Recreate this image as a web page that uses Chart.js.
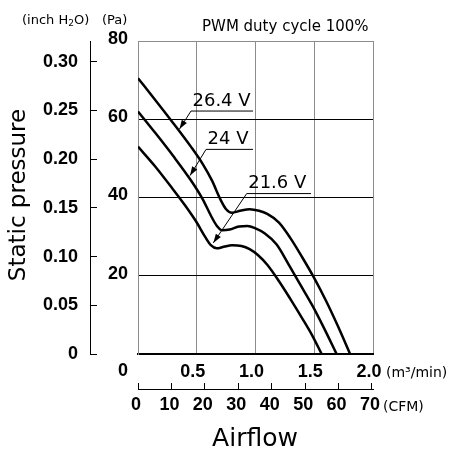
<!DOCTYPE html>
<html>
<head>
<meta charset="utf-8">
<script src="https://cdn.jsdelivr.net/npm/chart.js@4.4.1/dist/chart.umd.min.js"></script>
<style>
  html, body { margin: 0; padding: 0; background: #fff; }
  canvas { display: block; }
</style>
</head>
<body>
<canvas id="pq-chart" width="451" height="450"></canvas>
<script>
// airflow in m3/min, static pressure in Pa
const flow264 = [0, 0.15, 0.3, 0.45, 0.55, 0.63, 0.7, 0.75, 0.8, 0.87, 0.95, 1.03, 1.1, 1.2, 1.3, 1.4, 1.5, 1.6, 1.7, 1.805];
const pres264 = [70.5, 64.8, 59.0, 53.0, 48.6, 44.3, 39.6, 37.0, 36.1, 36.6, 37.0, 36.6, 35.8, 33.6, 29.5, 24.6, 19.4, 13.6, 7.2, 0];

const flow24 = [0, 0.15, 0.3, 0.45, 0.55, 0.62, 0.67, 0.72, 0.78, 0.86, 0.93, 1.0, 1.08, 1.18, 1.28, 1.38, 1.48, 1.58, 1.69];
const pres24 = [62, 56.4, 50.6, 44.4, 39.6, 35.4, 32.8, 31.6, 31.8, 32.6, 32.7, 32.1, 30.8, 28.0, 23.0, 17.8, 12.6, 6.8, 0];

const flow216 = [0, 0.15, 0.3, 0.4, 0.5, 0.57, 0.62, 0.67, 0.73, 0.8, 0.88, 0.95, 1.02, 1.1, 1.2, 1.3, 1.4, 1.48, 1.563];
const pres216 = [53, 47.8, 42.0, 38.0, 33.6, 30.0, 27.8, 27.0, 27.4, 27.8, 27.6, 26.8, 25.3, 22.8, 18.6, 13.9, 9.0, 4.9, 0];

const curveNames = ['26.4 V', '24 V', '21.6 V'];

// tick labels
const flowTicks = [0, 0.5, 1.0, 1.5, 2.0];
const cfmTicks = [0, 10, 20, 30, 40, 50, 60, 70];
const paTicks = [0, 20, 40, 60, 80];
const inchTicks = [0, 0.05, 0.10, 0.15, 0.20, 0.25, 0.30];

const PA_PER_INCH = 249.089;

// label + leader arrow, in data units (m3/min, Pa)
const notes = [
  { ux0: 0.451, ux1: 0.979, uy: 62.1, tx: 0.353, ty: 57.5 },
  { ux0: 0.579, ux1: 0.979, uy: 52.3, tx: 0.443, ty: 45.6 },
  { ux0: 0.925, ux1: 1.472, uy: 41.0, tx: 0.641, ty: 28.4 }
];

function toPoints(xs, ys) {
  return xs.map((x, i) => ({ x: x, y: ys[i] }));
}

const numFont = { family: '"Liberation Sans", Arial, sans-serif', size: 18, weight: 'bold' };
const txtFont = '"DejaVu Sans", sans-serif';

const extras = {
  id: 'extras',
  afterDraw(chart) {
    const c = chart.ctx;
    const xs = chart.scales.x, ys = chart.scales.y;
    const area = chart.chartArea;
    c.save();
    c.strokeStyle = '#000';
    c.fillStyle = '#000';

    // inch axis line
    const yIn = chart.scales.yIn;
    const lx = Math.round(yIn.right - 7) + 0.5;
    c.lineWidth = 1;
    c.beginPath();
    c.moveTo(lx, area.top);
    c.lineTo(lx, area.bottom);
    c.stroke();

    // CFM axis line
    const xC = chart.scales.xCfm;
    const ly = Math.round(xC.top + 6) + 0.5;
    c.beginPath();
    c.moveTo(xC.left, ly);
    c.lineTo(xC.right + 1, ly);
    c.stroke();

    // origin label
    c.font = 'bold 18px "Liberation Sans", Arial, sans-serif';
    c.textAlign = 'center';
    c.textBaseline = 'middle';
    c.fillText('0', area.left - 15, area.bottom + 17);

    // curve labels with arrows
    c.font = '18px ' + txtFont;
    c.textAlign = 'left';
    c.textBaseline = 'alphabetic';
    notes.forEach((n, i) => {
      const x0 = xs.getPixelForValue(n.ux0);
      const x1 = xs.getPixelForValue(n.ux1);
      const y0 = ys.getPixelForValue(n.uy);
      const tx = xs.getPixelForValue(n.tx);
      const ty = ys.getPixelForValue(n.ty);
      c.fillText(curveNames[i], x0 + 1.5, y0 - 5.5);
      c.lineWidth = 1;
      c.beginPath();
      c.moveTo(x1, y0);
      c.lineTo(x0, y0);
      c.lineTo(tx, ty);
      c.stroke();
      const ang = Math.atan2(ty - y0, tx - x0);
      const hl = 9, hw = 3;
      c.beginPath();
      c.moveTo(tx, ty);
      c.lineTo(tx - hl * Math.cos(ang) + hw * Math.sin(ang), ty - hl * Math.sin(ang) - hw * Math.cos(ang));
      c.lineTo(tx - hl * Math.cos(ang) - hw * Math.sin(ang), ty - hl * Math.sin(ang) + hw * Math.cos(ang));
      c.closePath();
      c.fill();
    });

    // header
    c.font = '15px ' + txtFont;
    c.fillText('PWM duty cycle 100%', 202, 31);

    c.font = '13px ' + txtFont;
    let px = 22;
    c.fillText('(inch H', px, 24);
    px += c.measureText('(inch H').width;
    c.font = '9px ' + txtFont;
    c.fillText('2', px, 26);
    px += c.measureText('2').width;
    c.font = '13px ' + txtFont;
    c.fillText('O)', px, 24);
    c.fillText('(Pa)', 102, 24);

    // unit labels
    c.font = '14px ' + txtFont;
    c.fillText('(m\u00b3/min)', 386, 377);
    c.fillText('(CFM)', 383, 411);

    // axis titles
    c.font = '25px ' + txtFont;
    c.textAlign = 'center';
    c.fillText('Airflow', 255, 446);

    c.font = '23px ' + txtFont;
    c.translate(25, 195);
    c.rotate(-Math.PI / 2);
    c.fillText('Static pressure', 0, 0);
    c.restore();
  }
};

new Chart(document.getElementById('pq-chart').getContext('2d'), {
  type: 'line',
  data: {
    datasets: [
      { data: toPoints(flow264, pres264) },
      { data: toPoints(flow24, pres24) },
      { data: toPoints(flow216, pres216) }
    ].map(d => Object.assign(d, {
      borderColor: '#000',
      borderWidth: 2.5,
      pointRadius: 0,
      fill: false,
      cubicInterpolationMode: 'monotone',
      xAxisID: 'x',
      yAxisID: 'y'
    }))
  },
  options: {
    responsive: false,
    animation: false,
    layout: { padding: { left: 0, top: 41, right: 78, bottom: 0 } },
    plugins: { legend: { display: false }, tooltip: { enabled: false } },
    scales: {
      x: {
        type: 'linear', position: 'bottom', weight: 0,
        min: 0, max: 2,
        afterBuildTicks: s => { s.ticks = flowTicks.map(v => ({ value: v })); },
        afterFit: s => { s.height = 29; },
        ticks: {
          font: numFont, color: '#000', padding: 7, maxRotation: 0, labelOffset: -4,
          callback: v => v === 0 ? '' : v.toFixed(1)
        },
        grid: { color: '#8c8c8c', lineWidth: 1, drawTicks: false },
        border: { color: '#000', width: 2 }
      },
      xCfm: {
        type: 'linear', position: 'bottom', weight: 1,
        min: 0, max: 70.3,
        afterBuildTicks: s => { s.ticks = cfmTicks.map(v => ({ value: v })); },
        afterFit: s => { s.height = 67; },
        ticks: { font: numFont, color: '#000', padding: 5, maxRotation: 0, labelOffset: -2 },
        grid: { drawOnChartArea: false, drawTicks: true, tickLength: 6, color: '#000', lineWidth: 1 },
        border: { display: false }
      },
      y: {
        type: 'linear', position: 'left', weight: 0,
        min: 0, max: 80,
        afterBuildTicks: s => { s.ticks = paTicks.map(v => ({ value: v })); },
        afterFit: s => { s.width = 41; },
        ticks: {
          font: numFont, color: '#000', padding: 10, labelOffset: -2,
          callback: v => v === 0 ? '' : String(v)
        },
        grid: {
          drawTicks: false,
          color: c => c.tick.value === 80 ? '#8c8c8c' : '#000',
          lineWidth: c => c.tick.value === 0 ? 2 : 1
        },
        border: { color: '#8c8c8c', width: 1 }
      },
      yIn: {
        type: 'linear', position: 'left', weight: 1,
        min: 0, max: 80 / PA_PER_INCH,
        afterBuildTicks: s => { s.ticks = inchTicks.map(v => ({ value: v })); },
        afterFit: s => { s.width = 97; },
        ticks: {
          font: numFont, color: '#000', padding: 12,
          callback: v => v === 0 ? '0' : v.toFixed(2)
        },
        grid: { drawOnChartArea: false, drawTicks: true, tickLength: 7, color: '#000', lineWidth: 1 },
        border: { display: false }
      }
    }
  },
  plugins: [extras]
});
</script>
</body>
</html>
